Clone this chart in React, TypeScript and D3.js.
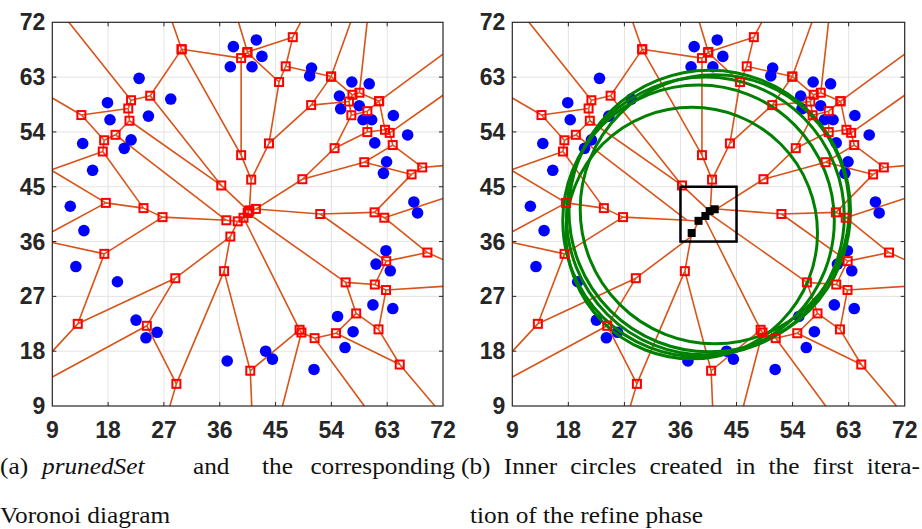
import { useEffect, useRef } from "react";
import * as d3 from "d3";

// sites of prunedSet
const siteX = [
  23.0, 17.9, 28.1, 18.3, 24.5, 13.9, 21.7, 20.6, 15.5, 11.9, 14.1, 12.8, 19.5,
  22.5, 24.1, 25.9, 37.2, 43.4, 44.5, 51.2, 56.2, 57.5, 55.0, 60.7, 63.9, 61.2,
  62.8, 63.5, 67.3, 67.9, 62.4, 62.9, 61.0, 66.3, 64.0, 59.1, 60.5, 58.5, 55.5,
  55.3, 57.3, 60.1, 50.8, 50.5, 38.2, 41.9, 37.7, 41.2, 42.8,
];
const siteY = [
  62.8, 58.8, 59.4, 56.0, 56.6, 52.1, 52.7, 51.3, 47.7, 41.8, 37.8, 31.9, 29.4,
  23.1, 20.2, 21.1, 16.4, 18.0, 16.7, 15.0, 18.6, 21.2, 23.7, 25.6, 25.0, 32.3,
  34.5, 31.2, 42.5, 40.7, 47.2, 49.1, 52.2, 53.5, 56.7, 56.0, 56.0, 58.3, 57.8,
  59.9, 62.2, 61.9, 64.5, 63.2, 68.0, 69.1, 64.7, 64.7, 66.4,
];

const ticks = [9, 18, 27, 36, 45, 54, 63, 72];
const domain = [9, 72];

// inner circles of the first refine iteration
const circleCX = [37.8, 38.9, 40.0, 40.7, 41.5];
const circleCY = [37.4, 39.4, 40.2, 41.0, 41.3];
const circleR = [20.2, 21.8, 22.3, 22.6, 21.6];
const refineBox = [36, 45];

const serif = "'Liberation Serif', 'DejaVu Serif', 'Times New Roman', serif";
const stretch = 1.1; // computer modern is wider than Times

export default function App() {
  const svgRef = useRef<SVGSVGElement>(null);

  useEffect(() => {
    if (!svgRef.current) return;
    const svg = d3.select(svgRef.current);
    svg.selectAll("*").remove();

    const sites: [number, number][] = siteX.map((x, i) => [x, siteY[i]]);
    const delaunay = d3.Delaunay.from(sites);
    const voronoi = delaunay.voronoi([9, 9, 72, 72]);

    // collect edge segments in data space
    const segs: number[][] = [];
    let px = 0,
      py = 0;
    const ctx = {
      moveTo(x: number, y: number) {
        px = x;
        py = y;
      },
      lineTo(x: number, y: number) {
        segs.push([px, py, x, y]);
        px = x;
        py = y;
      },
      closePath() {},
    };
    voronoi.render(ctx as any);

    const verts: [number, number][] = [];
    const cc = voronoi.circumcenters;
    for (let i = 0; i < cc.length; i += 2) {
      const x = cc[i],
        y = cc[i + 1];
      if (x >= 9 && x <= 72 && y >= 9 && y <= 72) verts.push([x, y]);
    }

    const drawPanel = (x0: number, x1: number, inner: boolean) => {
      const x = d3.scaleLinear().domain(domain).range([x0, x1]);
      const y = d3.scaleLinear().domain(domain).range([406, 22.3]);
      const g = svg.append("g");

      // grid
      g.selectAll(".gx")
        .data(ticks.slice(1, -1))
        .join("line")
        .attr("x1", (d) => x(d))
        .attr("x2", (d) => x(d))
        .attr("y1", y(9))
        .attr("y2", y(72))
        .attr("stroke", "#e3e3e3")
        .attr("stroke-width", 1);
      g.selectAll(".gy")
        .data(ticks.slice(1, -1))
        .join("line")
        .attr("y1", (d) => y(d))
        .attr("y2", (d) => y(d))
        .attr("x1", x(9))
        .attr("x2", x(72))
        .attr("stroke", "#e3e3e3")
        .attr("stroke-width", 1);

      // voronoi edges
      g.append("g")
        .selectAll("line")
        .data(segs)
        .join("line")
        .attr("x1", (d) => x(d[0]))
        .attr("y1", (d) => y(d[1]))
        .attr("x2", (d) => x(d[2]))
        .attr("y2", (d) => y(d[3]))
        .attr("stroke", "#D95319")
        .attr("stroke-width", 1.6);

      // sites
      g.append("g")
        .selectAll("circle")
        .data(sites)
        .join("circle")
        .attr("cx", (d) => x(d[0]))
        .attr("cy", (d) => y(d[1]))
        .attr("r", 5.8)
        .attr("fill", "#0000ff");

      if (inner) {
        g.append("g")
          .selectAll("circle")
          .data(circleR)
          .join("circle")
          .attr("cx", (_, i) => x(circleCX[i]))
          .attr("cy", (_, i) => y(circleCY[i]))
          .attr("r", (d) => x(9 + d) - x(9))
          .attr("fill", "none")
          .attr("stroke", "#008000")
          .attr("stroke-width", 3);
      }

      // voronoi vertices
      const vs = inner
        ? verts.filter(
            (v) =>
              !(v[0] > refineBox[0] && v[0] < refineBox[1] && v[1] > refineBox[0] && v[1] < refineBox[1])
          )
        : verts;
      g.append("g")
        .selectAll("rect")
        .data(vs)
        .join("rect")
        .attr("x", (d) => x(d[0]) - 4)
        .attr("y", (d) => y(d[1]) - 4)
        .attr("width", 8)
        .attr("height", 8)
        .attr("fill", "none")
        .attr("stroke", "#ff0000")
        .attr("stroke-width", 2);

      if (inner) {
        g.append("rect")
          .attr("x", x(refineBox[0]))
          .attr("y", y(refineBox[1]))
          .attr("width", x(refineBox[1]) - x(refineBox[0]))
          .attr("height", y(refineBox[0]) - y(refineBox[1]))
          .attr("fill", "none")
          .attr("stroke", "#000")
          .attr("stroke-width", 2.5);
        g.append("g")
          .selectAll("rect")
          .data(circleCX)
          .join("rect")
          .attr("x", (d) => x(d) - 4)
          .attr("y", (_, i) => y(circleCY[i]) - 4)
          .attr("width", 8)
          .attr("height", 8)
          .attr("fill", "#000");
      }

      // axes box and inward ticks
      g.append("rect")
        .attr("x", x(9))
        .attr("y", y(72))
        .attr("width", x(72) - x(9))
        .attr("height", y(9) - y(72))
        .attr("fill", "none")
        .attr("stroke", "#262626")
        .attr("stroke-width", 1.2);
      const tk = ticks.slice(1, -1);
      g.selectAll(".tb")
        .data(tk)
        .join("path")
        .attr(
          "d",
          (d) =>
            `M${x(d)},${y(9)}v-4M${x(d)},${y(72)}v4M${x(9)},${y(d)}h4M${x(72)},${y(d)}h-4`
        )
        .attr("stroke", "#262626")
        .attr("stroke-width", 1);

      // tick labels
      g.selectAll(".lx")
        .data(ticks)
        .join("text")
        .attr("x", (d) => x(d))
        .attr("y", y(9) + 32)
        .attr("text-anchor", "middle")
        .text((d) => d);
      g.selectAll(".ly")
        .data(ticks)
        .join("text")
        .attr("x", x(9) - 7)
        .attr("y", (d) => y(d) + 8)
        .attr("text-anchor", "end")
        .text((d) => d);
      g.selectAll("text")
        .attr("font-family", "'Liberation Sans', Arial, sans-serif")
        .attr("font-weight", "bold")
        .attr("font-size", 23)
        .attr("fill", "#262626");
    };

    drawPanel(52.3, 443, false);
    drawPanel(512.3, 904.7, true);

    // captions
    const cap = svg.append("g").attr("fill", "#111");
    const capText = (
      txt: string,
      cx: number,
      cy: number,
      italic = false,
      anchor = "start"
    ) =>
      cap
        .append("text")
        .attr("transform", `translate(${cx},${cy}) scale(${stretch},1)`)
        .attr("text-anchor", anchor)
        .style("font-family", serif)
        .style("font-size", "23px")
        .style("font-style", italic ? "italic" : "normal")
        .text(txt);

    const words: [string, number, boolean][] = [
      ["(a)", 0, false],
      ["prunedSet", 42, true],
      ["and", 193, false],
      ["the", 262, false],
    ];
    words.forEach(([w, wx, it]) => capText(w, wx, 474, it));
    capText("corresponding", 455, 474, false, "end");
    capText("Voronoi diagram", 0, 523);

    // justified first line of (b)
    const lineB = "(b) Inner circles created in the first itera-";
    const tb = capText(lineB, 461, 474);
    const natural = (tb.node() as SVGTextElement).getComputedTextLength();
    const spaces = lineB.split(" ").length - 1;
    const extra = (459 / stretch - natural) / spaces;
    if (extra > 0) tb.style("word-spacing", `${extra}px`);
    capText("tion of the refine phase", 470, 523);
  }, []);

  return (
    <svg
      ref={svgRef}
      width={922}
      height={529}
      style={{ position: "absolute", left: 0, top: 0, background: "#fff" }}
    />
  );
}
